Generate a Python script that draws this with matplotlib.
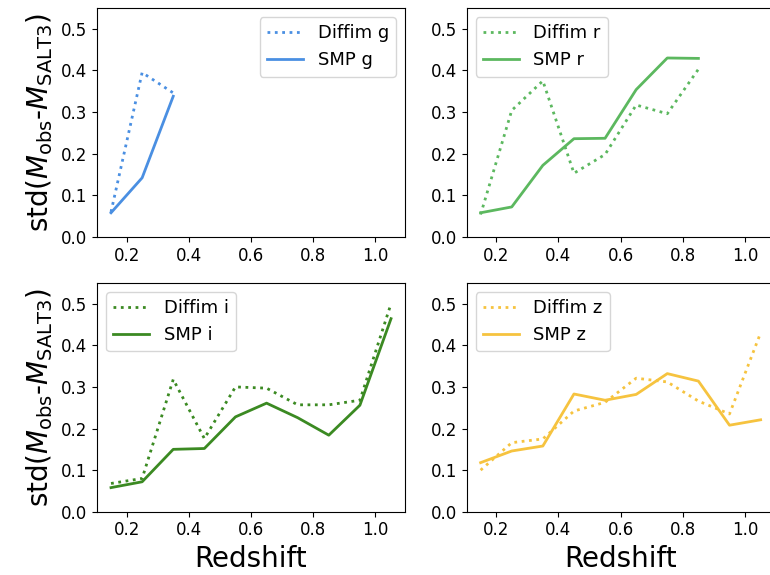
import matplotlib
matplotlib.use('agg')
import matplotlib.pyplot as plt

# redshift bin centres
z_bins = [0.15, 0.25, 0.35, 0.45, 0.55, 0.65, 0.75, 0.85, 0.95, 1.05]

bands = ['g', 'r', 'i', 'z']
band_colors = {'g': '#4a8fe2', 'r': '#5cb85f', 'i': '#3b8a22', 'z': '#f6c33f'}
legend_loc = {'g': 'upper right', 'r': 'upper left', 'i': 'upper left', 'z': 'upper left'}

diffim_g = [0.060, 0.395, 0.346]
smp_g = [0.058, 0.142, 0.338]

diffim_r = [0.054, 0.304, 0.375, 0.153, 0.198, 0.317, 0.296, 0.403]
smp_r = [0.058, 0.072, 0.172, 0.236, 0.237, 0.354, 0.430, 0.429]

diffim_i = [0.068, 0.080, 0.318, 0.176, 0.300, 0.297, 0.257, 0.257, 0.268, 0.500]
smp_i = [0.058, 0.072, 0.150, 0.152, 0.228, 0.261, 0.226, 0.184, 0.256, 0.464]

diffim_z = [0.100, 0.166, 0.175, 0.242, 0.263, 0.321, 0.312, 0.266, 0.235, 0.430]
smp_z = [0.118, 0.146, 0.158, 0.283, 0.268, 0.282, 0.332, 0.314, 0.208, 0.221]

diffim = {'g': diffim_g, 'r': diffim_r, 'i': diffim_i, 'z': diffim_z}
smp = {'g': smp_g, 'r': smp_r, 'i': smp_i, 'z': smp_z}

fig = plt.figure(figsize=(7.7, 5.75), dpi=100)
w, h = 0.400, 0.398
boxes = {'g': [0.126, 0.588], 'r': [0.606, 0.588],
         'i': [0.126, 0.110], 'z': [0.606, 0.110]}

for b in bands:
    ax = fig.add_axes([boxes[b][0], boxes[b][1], w, h])
    c = band_colors[b]
    d = diffim[b]
    s = smp[b]
    ax.plot(z_bins[:len(d)], d, ':', color=c, lw=2.0, label='Diffim %s' % b)
    ax.plot(z_bins[:len(s)], s, '-', color=c, lw=2.0, label='SMP %s' % b)
    ax.set_xlim(0.105, 1.095)
    ax.set_ylim(0, 0.55)
    ax.set_xticks([0.2, 0.4, 0.6, 0.8, 1.0])
    ax.set_yticks([0.0, 0.1, 0.2, 0.3, 0.4, 0.5])
    ax.tick_params(labelsize=12)
    ax.legend(loc=legend_loc[b], fontsize=13)
    if b in ('g', 'i'):
        ax.set_ylabel(r'std($M_{\rm obs}$-$M_{\rm SALT3}$)', fontsize=20)
    if b in ('i', 'z'):
        ax.set_xlabel('Redshift', fontsize=20)

fig.savefig('out.png', dpi=100)
